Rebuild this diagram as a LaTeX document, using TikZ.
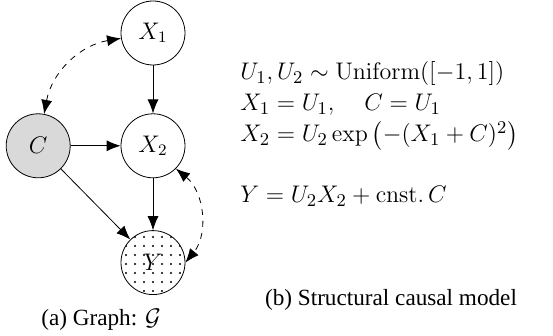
\documentclass[tikz,border=0pt]{standalone}
\usepackage{amsmath}
\usepackage[no-math]{fontspec}
\newfontfamily\capfont{Liberation Serif}
\usepackage{tikz}
\usetikzlibrary{arrows.meta,positioning,patterns.meta}
\definecolor{Shade}{HTML}{D9D9D9}

\begin{document}
\begin{tikzpicture}[x=0.5pt,y=-0.5pt, node distance=24pt and 25pt,
  var/.style={draw,circle,minimum size=32pt,inner sep=0pt,font=\fontsize{12}{14}\selectfont},
  edge/.style={-{Latex[length=7pt,width=5.5pt]}},
  conf/.style={{Latex[length=7pt,width=5.5pt]}-{Latex[length=7pt,width=5.5pt]},dashed},
  eqn/.style={anchor=base west,inner sep=0pt,font=\fontsize{13}{16}\selectfont},
  caption/.style={font=\capfont\fontsize{11.6}{14}\selectfont}]
\useasboundingbox (0,0) rectangle (553,336);
% graph
\node[var] (x1) at (153,33) {$X_1$};
\node[var,below=of x1] (x2) {$X_2$};
\node[var,fill=Shade,left=of x2] (c) {$C$};
\node[var,below=26pt of x2,pattern={Dots[distance=4.5pt,radius=0.6pt]}] (y) {$Y$};
\draw[edge] (x1) -- (x2);
\draw[edge] (c) -- (x2);
\draw[edge] (c) -- (y);
\draw[edge] (x2) -- (y);
\draw[conf] (c) to[bend left=35] (x1);
\draw[conf] (x2.south east) to[bend left=45] (y.east);
\node[caption] (capa) at (101,320) {(a) Graph: $\mathcal{G}$};
% structural equations
\node[eqn] (e1) at (240,80) {$U_1, U_2 \sim \mathrm{Uniform}([-1,1])$};
\node[eqn] (e2) at (240,111) {$X_1 = U_1, \quad C = U_1$};
\node[eqn] (e3) at (240,142) {$X_2 = U_2 \exp\left(-(X_1 + C)^2\right)$};
\node[eqn] (e4) at (240,203) {$Y = U_2 X_2 + \mathrm{cnst.}\, C$};
\node[caption] (capb) at (391,300) {(b) Structural causal model};
\end{tikzpicture}
\end{document}
